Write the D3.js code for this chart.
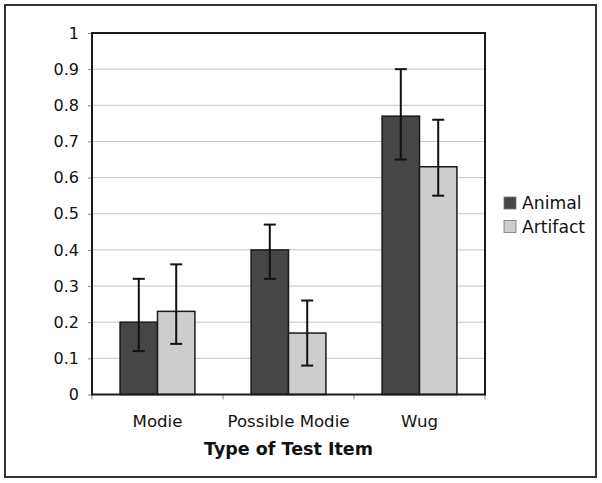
<!DOCTYPE html>
<html>
<head>
<meta charset="utf-8">
<script src="https://cdn.jsdelivr.net/npm/d3@7"></script>
<style>
  body { margin: 0; background: #fff; }
  svg text { font-family: "DejaVu Sans", Verdana, sans-serif; fill: #111; }
  .grid line { stroke: #c4c4c4; stroke-width: 1; }
</style>
</head>
<body>
<svg width="602" height="483"></svg>
<script>
  // chart data
  const categories = ['Modie', 'Possible Modie', 'Wug']
  const seriesNames = ['Animal', 'Artifact']
  const seriesColors = ['#464646', '#cdcdcd']
  const animalValues = [0.20, 0.40, 0.77]
  const artifactValues = [0.23, 0.17, 0.63]
  const animalErrLow = [0.12, 0.32, 0.65]
  const animalErrHigh = [0.32, 0.47, 0.90]
  const artifactErrLow = [0.14, 0.08, 0.55]
  const artifactErrHigh = [0.36, 0.26, 0.76]
  const yTicks = [0, 0.1, 0.2, 0.3, 0.4, 0.5, 0.6, 0.7, 0.8, 0.9, 1]
  const xTitle = 'Type of Test Item'

  const rows = []
  categories.forEach((c, i) => {
    rows.push({cat: c, series: seriesNames[0], value: animalValues[i], lo: animalErrLow[i], hi: animalErrHigh[i]})
    rows.push({cat: c, series: seriesNames[1], value: artifactValues[i], lo: artifactErrLow[i], hi: artifactErrHigh[i]})
  })

  const plot = {left: 92, top: 33, right: 485, bottom: 394.5}

  const svg = d3.select('svg')

  // outer frame
  svg.append('rect')
    .attr('x', 5).attr('y', 5).attr('width', 591).attr('height', 472)
    .attr('fill', '#fff').attr('stroke', '#333').attr('stroke-width', 2)

  const x0 = d3.scaleBand()
    .domain(categories)
    .range([plot.left, plot.right])

  const x1 = d3.scaleBand()
    .domain(seriesNames)
    .range([0, x0.bandwidth()])
    .paddingOuter(0.75)
    .paddingInner(0)

  const y = d3.scaleLinear()
    .domain([0, 1])
    .range([plot.bottom, plot.top])

  const color = d3.scaleOrdinal()
    .domain(seriesNames)
    .range(seriesColors)

  // gridlines
  svg.append('g')
    .classed('grid', true)
    .selectAll('line')
    .data(yTicks.filter(t => t > 0 && t < 1))
    .enter()
    .append('line')
    .attr('x1', plot.left).attr('x2', plot.right)
    .attr('y1', d => y(d)).attr('y2', d => y(d))

  // y axis
  const yAxis = svg.append('g')
    .attr('transform', `translate(${plot.left},0)`)
    .call(d3.axisLeft(y).tickValues(yTicks).tickFormat(d3.format('~g')).tickSize(4).tickPadding(9))
  yAxis.select('.domain').remove()
  yAxis.selectAll('.tick line').attr('stroke', '#888')
  yAxis.selectAll('.tick text').style('font-size', '16px').attr('fill', '#111')

  // x axis ticks at category boundaries
  const xAxis = svg.append('g')
    .attr('transform', `translate(0,${plot.bottom})`)
  xAxis.selectAll('line')
    .data([0, 1, 2, 3])
    .enter()
    .append('line')
    .attr('x1', i => plot.left + i * x0.step())
    .attr('x2', i => plot.left + i * x0.step())
    .attr('y1', 0).attr('y2', 5)
    .attr('stroke', '#888')
  xAxis.selectAll('text')
    .data(categories)
    .enter()
    .append('text')
    .attr('x', d => x0(d) + x0.bandwidth() / 2)
    .attr('y', 32)
    .attr('text-anchor', 'middle')
    .style('font-size', '16.6px')
    .text(d => d)

  // bars
  svg.append('g')
    .selectAll('rect')
    .data(rows)
    .enter()
    .append('rect')
    .attr('x', d => x0(d.cat) + x1(d.series))
    .attr('y', d => y(d.value))
    .attr('width', x1.bandwidth())
    .attr('height', d => y(0) - y(d.value))
    .attr('fill', d => color(d.series))
    .attr('stroke', '#1a1a1a')
    .attr('stroke-width', 1.5)

  // plot frame
  svg.append('rect')
    .attr('x', plot.left).attr('y', plot.top)
    .attr('width', plot.right - plot.left).attr('height', plot.bottom - plot.top)
    .attr('fill', 'none').attr('stroke', '#1a1a1a').attr('stroke-width', 2)

  // error bars
  const err = svg.append('g')
    .selectAll('g')
    .data(rows)
    .enter()
    .append('g')
    .attr('stroke', '#111')
    .attr('stroke-width', 2)
  const cx = d => x0(d.cat) + x1(d.series) + x1.bandwidth() / 2
  err.append('line')
    .attr('x1', cx).attr('x2', cx)
    .attr('y1', d => y(d.lo)).attr('y2', d => y(d.hi))
  err.append('line')
    .attr('x1', d => cx(d) - 6).attr('x2', d => cx(d) + 6)
    .attr('y1', d => y(d.hi)).attr('y2', d => y(d.hi))
  err.append('line')
    .attr('x1', d => cx(d) - 6).attr('x2', d => cx(d) + 6)
    .attr('y1', d => y(d.lo)).attr('y2', d => y(d.lo))

  // axis title
  svg.append('text')
    .attr('x', (plot.left + plot.right) / 2)
    .attr('y', 455)
    .attr('text-anchor', 'middle')
    .style('font-size', '17.5px')
    .style('font-weight', 'bold')
    .text(xTitle)

  // legend
  const legend = svg.append('g')
    .selectAll('g')
    .data(seriesNames)
    .enter()
    .append('g')
    .attr('transform', (d, i) => `translate(504,${197 + i * 23.5})`)
  legend.append('rect')
    .attr('width', 12).attr('height', 12)
    .attr('fill', d => color(d))
    .attr('stroke', '#777').attr('stroke-width', 0.8)
  legend.append('text')
    .attr('x', 18).attr('y', 12)
    .style('font-size', '17.2px')
    .text(d => d)
</script>
</body>
</html>
